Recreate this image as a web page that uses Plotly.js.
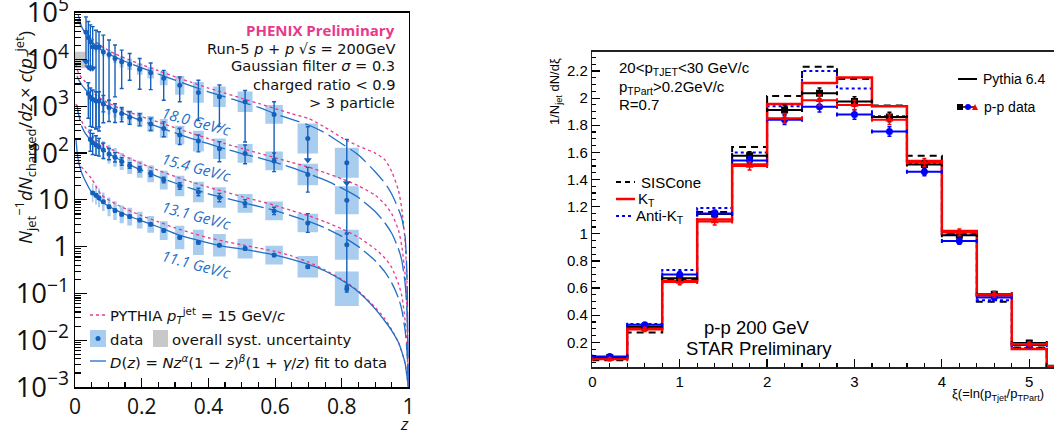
<!DOCTYPE html>
<html><head><meta charset="utf-8">
<script src="https://cdn.plot.ly/plotly-3.0.1.min.js"></script>
<style>html,body{margin:0;padding:0;background:#fff;overflow:hidden}#chart{width:1054px;height:438px}</style>
</head><body><div id="chart"></div>
<script>
// ================= LEFT PANEL (PHENIX) DATA =================
const zData = [0.033,0.040,0.046,0.053,0.063,0.072,0.085,0.102,0.120,0.140,0.164,0.194,0.227,0.266,0.314,0.370,0.433,0.510,0.597,0.698,0.815];
const seriesLabels = ["18.0 GeV/c","15.4 GeV/c","13.1 GeV/c","11.1 GeV/c"];
const y180 = [3.8e4,2.96e4,2.4e4,1.87e4,1.8e4,1.87e4,1.45e4,1.28e4,1.05e4,8.9e3,7.9e3,6.2e3,5.2e3,3.96e3,2.8e3,1.98e3,1.6e3,1.25e3,670,205,62];
const y154 = [null,1880,1550,1410,1290,1290,1120,940,800,705,580,525,420,337,242,180,124,98,68,35,9.8];
const y131 = [null,null,195,166,148,136,116,95,81,66,54,45,36,26.5,19.8,14.7,11.2,8.4,5.8,3.2,1.1];
const y111 = [null,null,null,14,12.6,11,9.1,7.1,5.9,4.9,4.4,3.7,3.0,2.2,1.57,1.23,1.07,0.91,0.66,0.37,0.126];
// statistical errors (decades up / down)
const stUp180 = [.33,.34,.36,.43,.37,.32,.36,.31,.29,.25,.23,.23,.21,.17,.18,.26,.25,.24,.27,.25,.5];
const stDn180 = [.63,.63,.57,.46,1.73,1.8,1.28,.98,.82,.57,.34,.43,.36,.47,.35,.6,.64,.86,.95,.46,.43];
const arrow180 = [1,1,1,1,0,0,0,0,0,0,0,0,0,0,0,0,0,0,0,1,1];
const stUp154 = [null,.23,.2,.2,.2,.2,.18,.15,.15,.12,.12,.12,.12,.14,.15,.13,.15,.18,.17,.15,.36];
const stDn154 = [null,.53,.62,.6,.6,.55,.4,.3,.25,.18,.15,.14,.14,.18,.2,.23,.28,.22,.23,.38,.7];
const stUp131 = [null,null,.2,.2,.2,.18,.15,.12,.1,.08,.06,.06,.06,.06,.07,.08,.09,.08,.08,.2,.23];
const stDn131 = [null,null,.25,.25,.22,.2,.18,.12,.1,.08,.06,.06,.06,.06,.07,.08,.09,.08,.08,.2,.9];
const stUp111 = [null,null,null,.03,.03,.03,.03,.03,.03,.03,.03,.03,.03,.03,.03,.03,.03,.03,.03,.03,.07];
const stDn111 = stUp111;
// systematic uncertainty (half height, decades)
const sys180 = [.1,.1,.1,.1,.1,.1,.1,.1,.1,.12,.12,.12,.12,.15,.2,.22,.22,.22,.2,.32,.32];
const sys154 = [null,.15,.15,.15,.15,.15,.15,.15,.15,.15,.15,.15,.17,.2,.2,.22,.22,.2,.2,.23,.3];
const sys131 = [null,null,.2,.2,.2,.2,.2,.2,.2,.18,.18,.18,.18,.2,.22,.22,.22,.2,.2,.2,.32];
const sys111 = [null,null,null,.2,.2,.2,.2,.2,.2,.19,.19,.18,.18,.2,.25,.27,.24,.21,.2,.23,.37];
// overall systematic uncertainty box
const overallSysZ = [0, 0.032];
const overallSysY = [6.5e3, 1.47e4];
// fit curves and PYTHIA curves (log10 of value)
const zCurve = [0.003,0.006,0.01,0.02,0.03,0.05,0.08,0.12,0.16,0.2,0.25,0.3,0.35,0.4,0.45,0.5,0.55,0.6,0.65,0.7,0.75,0.8,0.85,0.9,0.93,0.95,0.97,0.98,0.99,0.995,0.999,1.0];
const fit180Log = [null,null,4.95,4.7,4.57,4.38,4.2,4.05,3.93,3.82,3.69,3.56,3.43,3.31,3.2,3.09,2.98,2.84,2.72,2.6,2.43,2.2,1.96,1.6,1.35,1.12,0.8,0.6,0.2,-0.5,-2.0,-3];
const fit154Log = [null,3.65,3.58,3.46,3.37,3.22,3.07,2.93,2.8,2.69,2.56,2.43,2.31,2.2,2.09,1.99,1.9,1.8,1.69,1.56,1.42,1.25,1.05,0.75,0.5,0.28,-0.05,-0.3,-0.8,-1.3,-2.4,-3];
const fit131Log = [null,3.03,2.85,2.58,2.43,2.25,2.08,1.91,1.76,1.63,1.49,1.36,1.24,1.13,1.04,0.95,0.86,0.77,0.66,0.54,0.4,0.22,0.0,-0.3,-0.55,-0.78,-1.1,-1.35,-1.8,-2.2,-2.8,-3];
const fit111Log = [2.3,2.05,1.85,1.58,1.42,1.16,0.96,0.79,0.66,0.55,0.42,0.28,0.17,0.08,0.0,-0.05,-0.11,-0.18,-0.27,-0.38,-0.52,-0.72,-0.97,-1.33,-1.6,-1.8,-2.05,-2.25,-2.5,-2.75,-2.95,-3];
const py180Log = [null,4.86,4.8,4.68,4.6,4.45,4.28,4.12,4.0,3.89,3.76,3.63,3.51,3.39,3.28,3.17,3.06,2.95,2.84,2.74,2.55,2.33,2.15,2.0,1.85,1.6,1.2,0.8,0.1,-0.7,-2.3,-3];
const py154Log = [3.9,3.8,3.72,3.6,3.53,3.32,3.15,3.0,2.88,2.78,2.66,2.54,2.42,2.31,2.2,2.1,2.0,1.9,1.8,1.7,1.58,1.45,1.3,1.1,0.9,0.7,0.35,0.0,-0.6,-1.3,-2.4,-3];
const py131Log = [3.05,2.95,2.85,2.68,2.56,2.37,2.2,2.04,1.9,1.77,1.63,1.5,1.38,1.27,1.17,1.07,0.98,0.88,0.77,0.66,0.53,0.38,0.2,-0.05,-0.25,-0.45,-0.8,-1.05,-1.6,-2.1,-2.8,-3];
const py111Log = [null,1.8,1.77,1.7,1.62,1.45,1.1,0.92,0.78,0.66,0.53,0.4,0.29,0.19,0.11,0.04,-0.03,-0.1,-0.2,-0.33,-0.5,-0.7,-0.95,-1.3,-1.55,-1.78,-2.05,-2.25,-2.5,-2.75,-2.95,-3];

// ================= RIGHT PANEL (STAR) DATA =================
const xiEdges = [0,0.4,0.8,1.2,1.6,2.0,2.4,2.8,3.2,3.6,4.0,4.4,4.8,5.2,5.6];
const pythiaSIS = [.068,.272,.665,1.16,1.64,2.015,2.232,2.14,1.945,1.576,1.0,.50,.162,.018];
const pythiaKT  = [.08,.30,.652,1.105,1.51,1.957,2.112,2.151,1.94,1.537,1.02,.545,.15,.018];
const pythiaAKT = [.085,.335,.733,1.19,1.60,1.94,2.20,2.07,1.866,1.52,.995,.51,.158,.018];
const dataSIS = [.088,.315,.672,1.145,1.575,1.912,2.035,1.975,1.86,1.51,.99,.555,.195,.028];
const dataKT  = [.075,.295,.645,1.09,1.50,1.852,1.985,1.95,1.84,1.525,1.01,.552,.188,.025];
const dataAKT = [.095,.33,.70,1.15,1.54,1.84,1.937,1.88,1.753,1.458,.947,.53,.18,.022];
const dataErr = [.01,.015,.02,.025,.03,.035,.04,.035,.035,.03,.025,.02,.015,.01];

// ================= BUILD =================
const W = 1054, H = 438;
const PX = x => x / W, PY = y => 1 - y / H;
const pw = v => (v === null ? null : Math.pow(10, v));
const fitBlue = '#1f6fc8', dataBlue = '#1560bd', boxBlue = '#a9cdee', pink = '#e8388c';
const LF = 'Open Sans', LT = 'DejaVu Sans', RF = 'Liberation Sans';

const traces = [];
traces.push({type:'scatter', mode:'lines', x:[overallSysZ[0],overallSysZ[1],overallSysZ[1],overallSysZ[0],overallSysZ[0]],
  y:[overallSysY[0],overallSysY[0],overallSysY[1],overallSysY[1],overallSysY[0]], fill:'toself', fillcolor:'#c8c8c8',
  line:{width:0}, xaxis:'x', yaxis:'y', hoverinfo:'skip', showlegend:false});

const seriesY = [y180,y154,y131,y111];
const seriesSys = [sys180,sys154,sys131,sys111];
const seriesUp = [stUp180,stUp154,stUp131,stUp111];
const seriesDn = [stDn180,stDn154,stDn131,stDn111];
seriesY.forEach((ys, s) => {
  const bx = [], by = [];
  ys.forEach((v, i) => {
    if (v === null) return;
    const z = zData[i], w = 0.044 * z, d = seriesSys[s][i];
    const lo = v * Math.pow(10, -d), hi = v * Math.pow(10, d);
    bx.push(z-w, z+w, z+w, z-w, z-w, null); by.push(lo, lo, hi, hi, lo, null);
  });
  traces.push({type:'scatter', mode:'lines', x:bx, y:by, fill:'toself', fillcolor:boxBlue, line:{width:0},
    xaxis:'x', yaxis:'y', hoverinfo:'skip', showlegend:false, connectgaps:false});
});
[py180Log,py154Log,py131Log,py111Log].forEach(c => traces.push({type:'scatter', mode:'lines', x:zCurve, y:c.map(pw),
  line:{color:pink, width:1.3, dash:'dot', shape:'spline', smoothing:0.6}, xaxis:'x', yaxis:'y', showlegend:false, hoverinfo:'skip'}));
const fitDash = ['20px,6px','24px,5px','16px,5px','solid'];
[fit180Log,fit154Log,fit131Log,fit111Log].forEach((c,k) => traces.push({type:'scatter', mode:'lines', x:zCurve, y:c.map(pw),
  line:{color:fitBlue, width:1.3, dash:fitDash[k], shape:'spline', smoothing:0.6}, xaxis:'x', yaxis:'y', showlegend:false, hoverinfo:'skip'}));
seriesY.forEach((ys, s) => {
  const up = ys.map((v,i) => v === null ? null : v * (Math.pow(10, seriesUp[s][i]) - 1));
  const dn = ys.map((v,i) => v === null ? null : v * (1 - Math.pow(10, -seriesDn[s][i])));
  traces.push({type:'scatter', mode:'markers', x:zData, y:ys, marker:{color:dataBlue, size:5},
    error_y:{type:'data', symmetric:false, array:up, arrayminus:dn, color:dataBlue, thickness:1.4, width:2},
    xaxis:'x', yaxis:'y', showlegend:false, name:seriesLabels[s]});
});
const ax = [], ay = [];
y180.forEach((v,i) => { if (arrow180[i]) { ax.push(zData[i]); ay.push(v * Math.pow(10, -stDn180[i])); } });
traces.push({type:'scatter', mode:'markers', x:ax, y:ay, marker:{symbol:'triangle-down', color:dataBlue, size:7},
  xaxis:'x', yaxis:'y', showlegend:false, hoverinfo:'skip'});

const stepY = arr => arr.concat([arr[arr.length-1]]);
traces.push({type:'scatter', mode:'lines', x:xiEdges, y:stepY(pythiaSIS), line:{shape:'hv', color:'#000', width:2, dash:'7px,5px'}, xaxis:'x2', yaxis:'y2', showlegend:false});
traces.push({type:'scatter', mode:'lines', x:xiEdges, y:stepY(pythiaAKT), line:{shape:'hv', color:'#0000ff', width:2, dash:'dot'}, xaxis:'x2', yaxis:'y2', showlegend:false});
traces.push({type:'scatter', mode:'lines', x:xiEdges, y:stepY(pythiaKT), line:{shape:'hv', color:'#ff0000', width:2.5}, xaxis:'x2', yaxis:'y2', showlegend:false});
const xiCenters = xiEdges.slice(0,-1).map((e,i) => (e + xiEdges[i+1]) / 2);
const xiHalf = xiEdges.slice(0,-1).map((e,i) => (xiEdges[i+1] - e) / 2);
[[dataSIS,'#000000','square'],[dataAKT,'#0000ff','circle'],[dataKT,'#ff0000','triangle-up']].forEach(([d,c,sym]) => {
  traces.push({type:'scatter', mode:'markers', x:xiCenters, y:d, marker:{color:c, symbol:sym, size:7},
    error_x:{type:'data', array:xiHalf, color:c, thickness:2, width:2},
    error_y:{type:'data', array:dataErr, color:c, thickness:1.5, width:2},
    xaxis:'x2', yaxis:'y2', showlegend:false});
});

// ================= LAYOUT =================
const ann = [];
const A = (x, y, text, o) => ann.push(Object.assign({xref:'paper', yref:'paper', x:PX(x), y:PY(y), text:text, showarrow:false}, o));
const lf = (size, color, fam) => ({family:fam || LF, size:size, color:color || '#111'});
const rf = (size, color) => ({family:RF, size:size, color:color || '#000'});
A(397, 30, '<b>PHENIX Preliminary</b>', {xanchor:'right', yanchor:'middle', font:lf(15, pink)});
A(397, 48, 'Run-5 <i>p</i> + <i>p</i> √<i>s</i> = 200GeV', {xanchor:'right', yanchor:'middle', font:lf(14.6, null, LT)});
A(397, 66, 'Gaussian filter <i>σ</i> = 0.3', {xanchor:'right', yanchor:'middle', font:lf(14.6, null, LT)});
A(397, 84, 'charged ratio < 0.9', {xanchor:'right', yanchor:'middle', font:lf(14.6, null, LT)});
A(397, 102, '> 3 particle', {xanchor:'right', yanchor:'middle', font:lf(14.6, null, LT)});
const labelY = [121,167,215,264];
seriesLabels.forEach((t,k) => A(196, labelY[k], '<i>' + t + '</i>', {xanchor:'center', yanchor:'middle', textangle:15, font:lf(15, fitBlue)}));
A(108, 315, 'PYTHIA <i>p</i><sub><i>T</i></sub><sup>jet</sup> = 15 GeV/<i>c</i>', {xanchor:'left', yanchor:'middle', font:lf(14.8, null, LT)});
A(108, 339, 'data', {xanchor:'left', yanchor:'middle', font:lf(14.8, null, LT)});
A(170, 339, 'overall syst. uncertainty', {xanchor:'left', yanchor:'middle', font:lf(14.8, null, LT)});
A(108, 361, '<i>D</i>(<i>z</i>) = <i>Nz</i><sup><i>α</i></sup>(1 − <i>z</i>)<sup><i>β</i></sup>(1 + <i>γ</i>/<i>z</i>) fit to data', {xanchor:'left', yanchor:'middle', font:lf(14.8, null, LT)});
A(25, 138, '<i>N</i><sub>jet</sub><sup>−1</sup><i>dN</i><sub>charged</sub>/<i>dz</i> × <i>c</i>(<i>p</i><sub><i>T</i></sub><sup>jet</sup>)', {xanchor:'center', yanchor:'middle', textangle:-90, font:lf(18.5)});
A(404, 437, '<i>z</i>', {xanchor:'center', yanchor:'bottom', font:lf(17)});
A(617, 68, '20<p<sub>TJET</sub><30 GeV/c', {xanchor:'left', yanchor:'middle', font:rf(15)});
A(617, 87, 'p<sub>TPart</sub>>0.2GeV/c', {xanchor:'left', yanchor:'middle', font:rf(15)});
A(617, 105, 'R=0.7', {xanchor:'left', yanchor:'middle', font:rf(15)});
A(639, 182, 'SISCone', {xanchor:'left', yanchor:'middle', font:rf(15)});
A(636, 199, 'K<sub>T</sub>', {xanchor:'left', yanchor:'middle', font:rf(15)});
A(634, 216, 'Anti-K<sub>T</sub>', {xanchor:'left', yanchor:'middle', font:rf(15)});
A(757, 327, 'p-p 200 GeV', {xanchor:'center', yanchor:'middle', font:rf(18.5)});
A(759, 348, 'STAR Preliminary', {xanchor:'center', yanchor:'middle', font:rf(18.5)});
A(981, 79, 'Pythia 6.4', {xanchor:'left', yanchor:'middle', font:rf(14)});
A(982, 107, 'p-p data', {xanchor:'left', yanchor:'middle', font:rf(14)});
A(555, 92, '1/N<sub>jet</sub> dN/dξ', {xanchor:'center', yanchor:'middle', textangle:-90, font:rf(13)});
A(1046, 394, 'ξ(=ln(p<sub>Tjet</sub>/p<sub>TPart</sub>)', {xanchor:'right', yanchor:'middle', font:rf(13)});

const shp = [];
const L = (x0,y0,x1,y1,line) => shp.push({type:'line', xref:'paper', yref:'paper', x0:PX(x0), y0:PY(y0), x1:PX(x1), y1:PY(y1), line:line});
const R = (x0,y0,x1,y1,fill) => shp.push({type:'rect', xref:'paper', yref:'paper', x0:PX(x0), y0:PY(y0), x1:PX(x1), y1:PY(y1), fillcolor:fill, line:{width:0}});
const C = (cx,cy,r,fill) => shp.push({type:'circle', xref:'paper', yref:'paper', x0:PX(cx-r), y0:PY(cy-r), x1:PX(cx+r), y1:PY(cy+r), fillcolor:fill, line:{width:0}});
L(90,315,106,315,{color:pink, width:1.3, dash:'dot'});
R(90,330,106,347,boxBlue);
C(98,338.5,2.5,dataBlue);
R(153,330,168,347,'#c8c8c8');
L(90,361,106,361,{color:fitBlue, width:1.3});
L(616,182,635,182,{color:'#000', width:2, dash:'5px,4px'});
L(616,199,635,199,{color:'#ff0000', width:2.5});
L(616,216,633,216,{color:'#0000ff', width:2, dash:'dot'});
L(958,79,977,79,{color:'#000', width:2});
L(960,107,976,107,{color:'#000', width:1.5});
R(957,104,963,110,'#000');
C(968,107,3,'#0000ff');
shp.push({type:'path', xref:'paper', yref:'paper', path:`M ${PX(972)} ${PY(110)} L ${PX(978)} ${PY(110)} L ${PX(975)} ${PY(104)} Z`, fillcolor:'#ff0000', line:{width:0}});

const layout = {
  width:W, height:H, margin:{l:0,r:0,t:0,b:0}, paper_bgcolor:'#fff', plot_bgcolor:'#fff', showlegend:false,
  xaxis:{domain:[PX(75),PX(408.5)], range:[0,1], dtick:0.2, tick0:0, ticks:'inside', ticklen:9, tickwidth:1.2, tickcolor:'#000',
    minor:{ticks:'inside', ticklen:5, dtick:0.05, tickcolor:'#000'}, showline:true, linecolor:'#000', linewidth:1.5, mirror:true,
    showgrid:false, zeroline:false, tickfont:{family:LF, size:21, color:'#111'}, anchor:'y', ticklabeloverflow:'allow'},
  yaxis:{domain:[PY(387),PY(12.7)], type:'log', range:[-3,5], dtick:1, exponentformat:'power', ticks:'inside', ticklen:12, tickwidth:1.2, tickcolor:'#000',
    minor:{ticks:'inside', ticklen:6, dtick:'D1', tickcolor:'#000'}, showline:true, linecolor:'#000', linewidth:1.5, mirror:true,
    showgrid:false, zeroline:false, tickfont:{family:LF, size:22, color:'#111'}, anchor:'x', ticklabeloverflow:'allow'},
  xaxis2:{domain:[PX(592.3),1], range:[0,5.283], dtick:1, tick0:0, ticks:'inside', ticklen:8, tickwidth:1.2, tickcolor:'#000',
    minor:{ticks:'inside', ticklen:4, dtick:0.2, tickcolor:'#000'}, showline:true, linecolor:'#222', linewidth:1.5, mirror:true,
    showgrid:false, zeroline:false, tickfont:{family:RF, size:15, color:'#000'}, anchor:'y2'},
  yaxis2:{domain:[PY(367.3),PY(51.7)], range:[0.016,2.342], dtick:0.2, tick0:0, ticks:'inside', ticklen:8, tickwidth:1.2, tickcolor:'#000',
    minor:{ticks:'inside', ticklen:4, dtick:0.05, tickcolor:'#000'}, showline:true, linecolor:'#222', linewidth:1.5, mirror:false,
    showgrid:false, zeroline:false, tickfont:{family:RF, size:15, color:'#000'}, anchor:'x2'},
  annotations:ann, shapes:shp
};
Plotly.newPlot('chart', traces, layout, {staticPlot:true, displayModeBar:false});
</script></body></html>
